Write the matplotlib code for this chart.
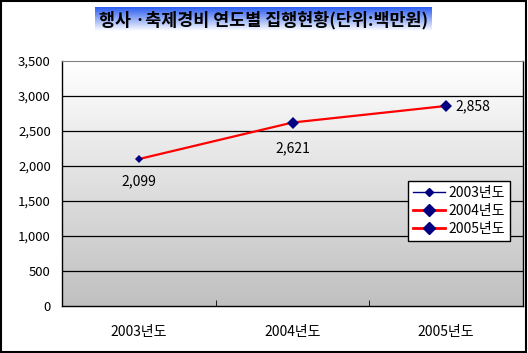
import matplotlib
matplotlib.use('Agg')
import matplotlib.pyplot as plt
from matplotlib.lines import Line2D
from matplotlib.patches import Rectangle
import numpy as np

plt.rcParams['font.family'] = ['Noto Sans CJK KR', 'DejaVu Sans']

years = ["2003년도", "2004년도", "2005년도"]
values = [2099, 2621, 2858]
value_labels = ["2,099", "2,621", "2,858"]
y_ticks = [0, 500, 1000, 1500, 2000, 2500, 3000, 3500]
y_tick_labels = ["0", "500", "1,000", "1,500", "2,000", "2,500", "3,000", "3,500"]
title = "행사 ·축제경비 연도별 집행현황(단위:백만원)"


def main() -> None:
    fig = plt.figure(figsize=(5.28, 3.53), dpi=100)
    fig.patch.set_facecolor('white')

    # outer frame
    fig.add_artist(Rectangle((0.002, 0.003), 0.995, 0.993, transform=fig.transFigure,
                             fill=False, edgecolor='black', linewidth=1.5))

    ax = fig.add_axes([62 / 528, 47 / 353, 461 / 528, 245 / 353])

    # vertical gradient white -> gray
    grad = np.linspace(0, 1, 256).reshape(-1, 1)
    cmap = matplotlib.colors.LinearSegmentedColormap.from_list('g', ['#ffffff', '#c0c0c0'])
    ax.imshow(grad, extent=[0, 1, 0, 1], transform=ax.transAxes, aspect='auto',
              cmap=cmap, zorder=0, origin='upper')

    x = np.arange(len(years))
    ax.set_xlim(-0.5, len(years) - 0.5)
    ax.set_ylim(0, 3500)

    for t in y_ticks[1:-1]:
        ax.axhline(t, color='black', linewidth=0.9, zorder=1)

    ax.plot(x, values, color='#ff0000', linewidth=1.6, zorder=3)
    sizes = [4.5, 6.5, 6.5]
    for xi, v, s in zip(x, values, sizes):
        ax.plot(xi, v, marker='D', markersize=s, color='#000080', zorder=4,
                markeredgewidth=0)

    ax.text(x[0], values[0] - 220, value_labels[0], ha='center', va='top', fontsize=10)
    ax.text(x[1], values[1] - 270, value_labels[1], ha='center', va='top', fontsize=10)
    ax.text(x[2] + 0.06, values[2], value_labels[2], ha='left', va='center', fontsize=10)

    ax.set_yticks(y_ticks)
    ax.set_yticklabels(y_tick_labels, fontsize=9.5)
    ax.tick_params(axis='y', length=0, pad=8)
    ax.set_xticks(x)
    ax.set_xticklabels(years, fontsize=10)
    ax.tick_params(axis='x', length=0, pad=14)
    ax.set_xticks([0.5, 1.5], minor=True)
    ax.tick_params(axis='x', which='minor', direction='in', length=4, color='black')

    for side in ['left', 'bottom', 'right']:
        ax.spines[side].set_color('black')
        ax.spines[side].set_linewidth(1)
    ax.spines['top'].set_color('#808080')

    handles = [
        Line2D([], [], color='#000080', linewidth=1, marker='D', markersize=4),
        Line2D([], [], color='#ff0000', linewidth=2, marker='D', markersize=6.5,
               markerfacecolor='#000080', markeredgecolor='#000080'),
        Line2D([], [], color='#ff0000', linewidth=2, marker='D', markersize=6.5,
               markerfacecolor='#000080', markeredgecolor='#000080'),
    ]
    leg = ax.legend(handles, years, loc='upper left', bbox_to_anchor=(0.735, 0.54),
                    fontsize=10, frameon=True, fancybox=False, edgecolor='black',
                    framealpha=1, handlelength=2.3, borderpad=0.35, labelspacing=0.3,
                    handletextpad=0.3)
    leg.get_frame().set_linewidth(1)

    # title box with gradient
    tax = fig.add_axes([95 / 528, 1 - 31 / 353, 337 / 528, 24 / 353])
    tgrad = np.linspace(0, 1, 256).reshape(-1, 1)
    tcmap = matplotlib.colors.LinearSegmentedColormap.from_list('t', ['#2a5cf0', '#ffffff'])
    tax.imshow(tgrad, extent=[0, 1, 0, 1], aspect='auto', cmap=tcmap, origin='upper')
    tax.set_axis_off()
    tax.text(0.5, 0.45, title, ha='center', va='center', fontsize=12.5,
             fontweight='bold', transform=tax.transAxes)

    fig.savefig('out.png', dpi=100)


if __name__ == "__main__":
    main()
